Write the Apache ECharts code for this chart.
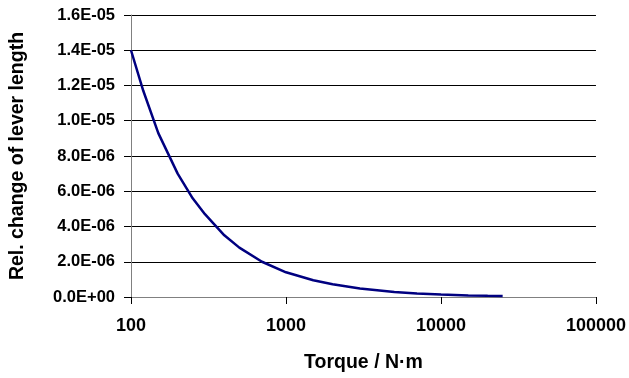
<!DOCTYPE html>
<html>
<head>
<meta charset="utf-8">
<script src="https://cdn.jsdelivr.net/npm/echarts@6/dist/echarts.min.js"></script>
<style>
html,body{margin:0;padding:0;background:#fff;}
#c{width:629px;height:378px;}
</style>
</head>
<body>
<div id="c"></div>
<script>
var torque = [100, 120, 150, 200, 250, 300, 400, 500, 700, 1000, 1500, 2000, 3000, 5000, 7000, 10000, 15000, 20000, 25000];
var relChange = [1.40e-5, 1.17e-5, 9.3e-6, 7.0e-6, 5.6e-6, 4.7e-6, 3.5e-6, 2.8e-6, 2.0e-6, 1.4e-6, 9.5e-7, 7.2e-7, 4.8e-7, 2.9e-7, 2.0e-7, 1.4e-7, 9e-8, 7e-8, 5.6e-8];
var xTickLabels = ['100', '1000', '10000', '100000'];
var yTitle = 'Rel. change of lever length';
var xTitle = 'Torque / N\u00b7m';

function fmtExp(v) {
  var s = Number(v).toExponential(1).toUpperCase();
  var m = s.match(/^(-?[\d.]+)E([+-])(\d+)$/);
  if (!m) return s;
  var e = m[3].length < 2 ? '0' + m[3] : m[3];
  return m[1] + 'E' + m[2] + e;
}

var data = torque.map(function (t, i) { return [t, relChange[i]]; });
var font = '"Liberation Sans", Arial, sans-serif';
var chart = echarts.init(document.getElementById('c'), null, {renderer: 'canvas'});
chart.setOption({
  animation: false,
  backgroundColor: '#ffffff',
  grid: {left: 126, right: 33, top: 15, bottom: 73, containLabel: false},
  xAxis: {
    type: 'log',
    logBase: 10,
    min: 100,
    max: 100000,
    name: xTitle,
    nameLocation: 'middle',
    nameGap: 56,
    nameTextStyle: {fontFamily: font, fontWeight: 'bold', fontSize: 19.5, color: '#000'},
    axisLine: {show: true, lineStyle: {color: '#808080', width: 1}},
    axisTick: {show: true, length: 7, inside: false, lineStyle: {color: '#000'}},
    minorTick: {show: false},
    splitLine: {show: false},
    axisLabel: {
      margin: 20,
      fontFamily: font, fontWeight: 'bold', fontSize: 18, color: '#000',
      formatter: function (v) {
        var idx = Math.round(Math.log10(v)) - 2;
        return xTickLabels[idx] !== undefined ? xTickLabels[idx] : String(v);
      }
    }
  },
  yAxis: {
    type: 'value',
    min: 0,
    max: 1.6e-5,
    interval: 2e-6,
    name: yTitle,
    nameLocation: 'middle',
    nameGap: 103,
    nameRotate: 90,
    nameTextStyle: {fontFamily: font, fontWeight: 'bold', fontSize: 19.5, color: '#000'},
    axisLine: {show: true, lineStyle: {color: '#808080', width: 1}},
    axisTick: {show: true, length: 7, inside: false, lineStyle: {color: '#000'}},
    splitLine: {show: true, lineStyle: {color: '#000', width: 1}},
    axisLabel: {
      margin: 16,
      fontFamily: font, fontWeight: 'bold', fontSize: 16.5, color: '#000',
      formatter: function (v) { return fmtExp(v); }
    }
  },
  series: [{
    type: 'line',
    data: data,
    showSymbol: false,
    symbol: 'none',
    smooth: false,
    lineStyle: {color: '#000080', width: 2.5},
    itemStyle: {color: '#000080'}
  }]
});
</script>
</body>
</html>
